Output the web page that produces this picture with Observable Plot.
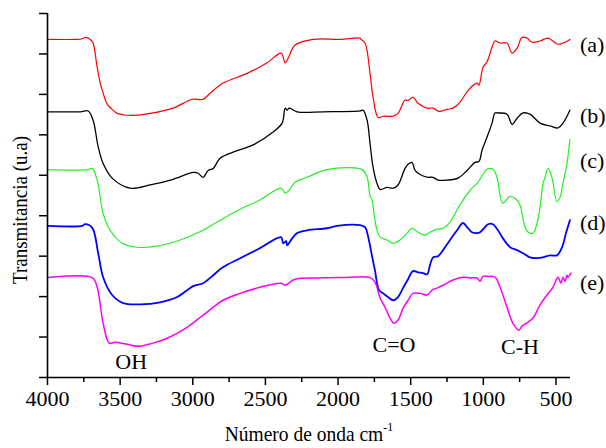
<!DOCTYPE html>
<html>
<head>
<meta charset="utf-8">
<script src="https://cdn.jsdelivr.net/npm/d3@7"></script>
<script src="https://cdn.jsdelivr.net/npm/@observablehq/plot@0.6"></script>
<style>
  html, body { margin: 0; padding: 0; background: #fff; }
  #chart { width: 606px; height: 448px; }
</style>
</head>
<body>
<div id="chart"></div>
<script>
// ---- Data (wavenumber cm^-1, transmittance in arbitrary units) ----
const seriesA = [[4000,83.6],[3800,83.6],[3768,83.7],[3734,84.1],[3700,83.4],[3686,82.7],[3658,76.7],[3637,72.8],[3617,70.3],[3589,67.6],[3555,66.3],[3520,65.3],[3470,64.9],[3410,64.8],[3293,65.3],[3135,66.6],[3004,68.8],[2929,68.8],[2880,70.3],[2791,72.8],[2626,75.2],[2488,77.8],[2392,80.2],[2364,77.8],[2344,78.9],[2296,82.2],[2172,83.6],[1986,83.6],[1849,83.9],[1842,83.6],[1814,82.7],[1780,75.2],[1759,69.3],[1724,64.3],[1689,64.6],[1621,64.6],[1587,65.3],[1539,68.6],[1518,68.5],[1484,69.3],[1449,67.8],[1387,66.6],[1346,66.6],[1305,65.8],[1250,66.3],[1209,66.6],[1160,68.1],[1105,71.0],[1057,72.6],[1043,72.8],[1030,72.3],[1002,76.7],[975,78.0],[940,81.7],[920,83.2],[885,82.7],[837,82.7],[802,80.2],[768,81.4],[734,84.1],[699,83.9],[665,82.9],[610,83.2],[555,83.9],[486,82.4],[438,82.9],[404,83.6]];
const seriesB = [[4000,65.7],[3775,65.7],[3720,65.9],[3686,63.6],[3651,57.0],[3617,52.9],[3555,49.3],[3431,46.8],[3293,47.6],[3135,49.0],[2997,50.7],[2963,50.5],[2929,49.5],[2894,51.2],[2859,51.7],[2812,54.2],[2722,55.7],[2585,57.5],[2447,60.7],[2385,62.9],[2364,66.6],[2351,66.1],[2337,66.6],[2282,65.7],[2100,65.7],[1849,65.9],[1828,66.1],[1800,63.6],[1780,57.9],[1759,52.0],[1732,48.0],[1710,46.5],[1663,47.0],[1621,46.8],[1587,47.6],[1539,51.7],[1518,52.7],[1491,53.2],[1470,51.2],[1436,50.2],[1381,49.5],[1346,49.5],[1312,48.8],[1250,48.8],[1174,49.3],[1112,51.2],[1057,53.2],[1030,53.4],[1009,56.2],[975,59.4],[940,62.9],[920,65.4],[899,65.4],[837,65.1],[802,62.6],[768,64.1],[727,65.4],[679,65.1],[610,62.9],[541,62.2],[486,61.7],[452,62.9],[404,66.1]];
const seriesC = [[4000,51.4],[3720,51.4],[3692,51.7],[3658,48.8],[3617,40.6],[3569,36.4],[3486,33.2],[3383,32.2],[3245,32.5],[3087,34.0],[2929,36.4],[2812,38.9],[2674,41.6],[2537,43.9],[2392,46.8],[2364,45.6],[2337,46.3],[2296,48.3],[2213,49.5],[2076,51.4],[1835,51.4],[1800,49.5],[1780,45.0],[1766,43.9],[1750,40.0],[1732,36.4],[1710,34.7],[1663,34.0],[1621,33.2],[1573,34.0],[1525,35.7],[1491,36.9],[1449,35.9],[1401,35.2],[1367,35.9],[1318,36.7],[1277,36.9],[1229,38.4],[1174,41.9],[1126,44.6],[1078,46.8],[1043,48.0],[1023,49.0],[975,51.5],[934,51.5],[906,49.5],[885,45.0],[865,43.1],[816,44.8],[782,44.3],[747,42.6],[734,40.6],[713,37.2],[692,35.9],[658,35.7],[630,38.2],[610,42.1],[589,48.0],[575,49.5],[555,51.7],[527,49.3],[493,43.5],[472,44.6],[452,48.0],[424,53.0],[404,58.9]];
const seriesD = [[4000,37.5],[3761,37.5],[3741,37.9],[3692,37.0],[3651,30.7],[3617,24.8],[3555,20.4],[3479,18.4],[3362,18.1],[3225,18.6],[3108,19.9],[2997,22.6],[2929,23.3],[2859,25.3],[2791,27.3],[2674,29.5],[2537,32.0],[2392,34.7],[2378,33.2],[2357,33.7],[2351,32.7],[2316,34.4],[2282,35.7],[2213,36.4],[2076,36.9],[2007,37.5],[1849,37.7],[1814,37.2],[1794,35.0],[1766,30.0],[1746,26.5],[1718,21.6],[1689,20.8],[1656,19.9],[1621,19.1],[1587,19.9],[1553,22.1],[1518,24.3],[1484,26.3],[1449,26.0],[1415,25.8],[1387,25.5],[1367,27.8],[1346,29.7],[1312,30.0],[1277,31.5],[1229,34.0],[1181,36.4],[1140,38.2],[1112,37.2],[1078,35.9],[1043,35.7],[1023,35.9],[988,37.2],[968,37.9],[934,37.9],[899,36.4],[865,34.4],[816,32.2],[768,31.5],[727,30.7],[679,29.7],[630,29.5],[589,29.7],[541,30.2],[493,30.2],[458,32.2],[431,35.7],[404,38.9]];
const seriesE = [[4000,24.7],[3692,24.7],[3658,22.3],[3617,13.4],[3575,8.5],[3534,8.7],[3452,8.2],[3376,7.7],[3273,8.5],[3176,9.7],[3039,12.4],[2929,15.4],[2791,19.1],[2674,20.8],[2537,22.3],[2392,23.3],[2364,22.8],[2330,23.6],[2296,24.3],[2144,24.6],[1986,24.7],[1780,24.7],[1746,23.6],[1710,19.6],[1677,17.4],[1642,14.7],[1615,13.4],[1587,14.2],[1553,17.1],[1518,19.1],[1484,20.8],[1436,20.8],[1387,20.4],[1353,21.6],[1318,22.1],[1277,22.8],[1209,24.1],[1140,24.8],[1092,24.6],[1043,24.6],[1023,23.8],[1002,25.0],[968,25.0],[920,24.8],[885,22.3],[837,17.4],[796,13.4],[755,11.7],[734,12.7],[692,13.7],[658,14.7],[610,17.9],[562,20.4],[521,22.3],[486,24.8],[466,23.3],[452,24.8],[438,23.8],[424,25.3],[418,24.8],[397,25.8]];

const seriesLabels = ["(a)", "(b)", "(c)", "(d)", "(e)"];
const seriesLabelY = [82.3, 64.7, 53.5, 38.2, 23.4];
const seriesLabelX = 335;

const bandNames = ["OH", "C=O", "C-H"];
const bandX = [3424, 1615, 748];
const bandY = [3.8, 8.0, 7.5];

const xMajorTicks = [4000, 3500, 3000, 2500, 2000, 1500, 1000, 500];
const xMinorTicks = [3750, 3250, 2750, 2250, 1750, 1250, 750];
const yTicks = [0, 10, 20, 30, 40, 50, 60, 70, 80, 90];

const xTitle = "Número de onda cm";
const xTitleSup = "-1";
const yTitle = "Transmitancia (u.a)";

// ---- Styling ----
const colors = ["#ff0000", "#000000", "#22f022", "#0000ff", "#ff00ff"];
const widths = [1.2, 1.3, 1.2, 1.8, 1.5];
const allSeries = [seriesA, seriesB, seriesC, seriesD, seriesE];

const lineMarks = allSeries.map((s, i) =>
  Plot.line(s, {x: d => d[0], y: d => d[1], stroke: colors[i], strokeWidth: widths[i], curve: "catmull-rom"})
);

const labelRows = seriesLabels.map((t, i) => ({t, y: seriesLabelY[i]}));
const bandRows = bandNames.map((t, i) => ({t, x: bandX[i], y: bandY[i]}));

const svg = Plot.plot({
  width: 606,
  height: 448,
  marginLeft: 47,
  marginRight: 36,
  marginTop: 13,
  marginBottom: 71,
  style: {fontFamily: "'Liberation Serif', 'Times New Roman', serif", fontSize: "22px", background: "white", color: "black"},
  x: {type: "linear", domain: [4000, 400]},
  y: {domain: [0, 90]},
  marks: [
    ...lineMarks,
    Plot.ruleX([4000], {stroke: "black", strokeWidth: 1.6}),
    Plot.ruleY([0], {stroke: "black", strokeWidth: 1.6}),
    Plot.axisX({ticks: xMajorTicks, tickSize: 8, tickPadding: 5, tickFormat: d => String(d), label: null, strokeWidth: 1.5, fontSize: 22}),
    Plot.axisX({ticks: xMinorTicks, tickSize: 5, tickFormat: () => "", label: null, strokeWidth: 1.5}),
    Plot.axisY({ticks: yTicks, tickSize: 8, tickFormat: () => "", label: null, strokeWidth: 1.5}),
    Plot.text(labelRows, {x: () => seriesLabelX, y: "y", text: "t", textAnchor: "start", fontSize: 22, fill: "black"}),
    Plot.text(bandRows, {x: "x", y: "y", text: "t", fontSize: 22, fill: "black"})
  ]
});

const s = d3.select(svg);
const xt = s.append("text")
  .attr("transform", "translate(309,441) scale(1,1.1)")
  .attr("text-anchor", "middle")
  .attr("font-size", 19.5)
  .attr("fill", "black");
xt.append("tspan").text(xTitle);
xt.append("tspan").attr("font-size", 12).attr("dy", -9).text(xTitleSup);

s.append("text")
  .attr("transform", "translate(27,210) rotate(-90) scale(1,1.15)")
  .attr("text-anchor", "middle")
  .attr("font-size", 19)
  .attr("fill", "black")
  .text(yTitle);

document.getElementById("chart").appendChild(svg);
</script>
</body>
</html>
